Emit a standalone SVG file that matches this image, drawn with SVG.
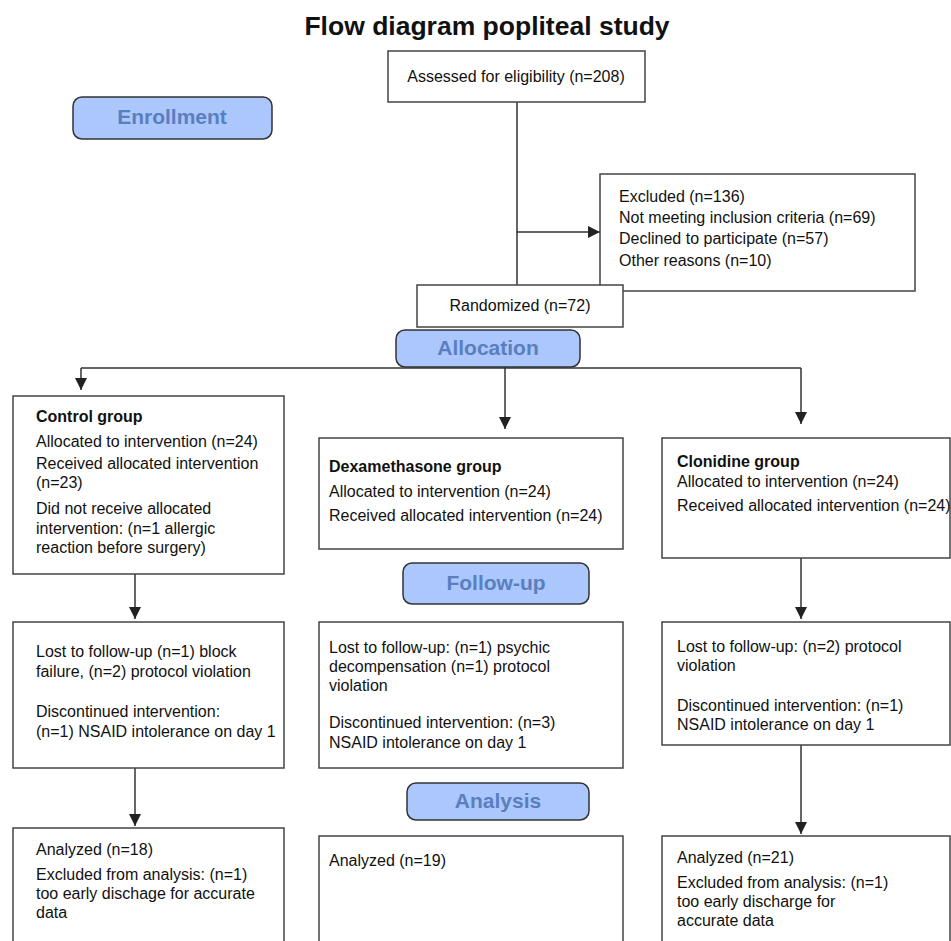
<svg xmlns="http://www.w3.org/2000/svg" width="951" height="941" viewBox="0 0 951 941">
<style>
.box{fill:#fff;stroke:#444;stroke-width:1.5}
.pill{fill:#abc7fb;stroke:#333;stroke-width:1.5}
.t{font-family:"Liberation Sans",Arial,sans-serif;font-size:16px;fill:#111}
.b{font-weight:bold}
.pt{font-family:"Liberation Sans",Arial,sans-serif;font-size:21px;font-weight:bold;fill:#5a7fbf;text-anchor:middle}
.title{font-family:"Liberation Sans",Arial,sans-serif;font-size:26.5px;font-weight:bold;fill:#111;text-anchor:middle}
.ln{fill:none;stroke:#333;stroke-width:1.5}
</style>
<defs>
<marker id="ah" viewBox="0 0 12 12" refX="12" refY="6" markerWidth="12" markerHeight="12" markerUnits="userSpaceOnUse" orient="auto">
<path d="M0,0 L12,6 L0,12 Z" fill="#222"/>
</marker>
</defs>
<rect width="951" height="941" fill="#fff"/>
<text class="title" x="487" y="35">Flow diagram popliteal study</text>

<g id="connectors">
<path class="ln" d="M517,102 V285"/>
<path class="ln" d="M517,232 H600" marker-end="url(#ah)"/>
<path class="ln" d="M81,368 H801"/>
<path class="ln" d="M81,368 V390" marker-end="url(#ah)"/>
<path class="ln" d="M505,367 V429" marker-end="url(#ah)"/>
<path class="ln" d="M801,368 V424" marker-end="url(#ah)"/>
<path class="ln" d="M135,574 V619" marker-end="url(#ah)"/>
<path class="ln" d="M801,558 V619" marker-end="url(#ah)"/>
<path class="ln" d="M135,768 V826" marker-end="url(#ah)"/>
<path class="ln" d="M801,745 V834" marker-end="url(#ah)"/>
</g>

<g id="enrollment">
<rect class="pill" x="73" y="97" width="199" height="42" rx="9"/>
<text class="pt" x="172" y="124">Enrollment</text>
</g>

<g id="assessed">
<rect class="box" x="388" y="51" width="257" height="51"/>
<text class="t" x="516" y="82" text-anchor="middle">Assessed for eligibility (n=208)</text>
</g>

<g id="excluded">
<rect class="box" x="600" y="174" width="315" height="117"/>
<text class="t" x="619" y="202">Excluded (n=136)</text>
<text class="t" x="619" y="223">Not meeting inclusion criteria (n=69)</text>
<text class="t" x="619" y="244">Declined to participate (n=57)</text>
<text class="t" x="619" y="266">Other reasons (n=10)</text>
</g>

<g id="randomized">
<rect class="box" x="417" y="285" width="206" height="42"/>
<text class="t" x="520" y="311" text-anchor="middle">Randomized (n=72)</text>
</g>

<g id="allocation">
<rect class="pill" x="396" y="330" width="184" height="37" rx="9"/>
<text class="pt" x="488" y="355">Allocation</text>
</g>

<g id="control-alloc">
<rect class="box" x="13" y="396" width="271" height="178"/>
<text class="t b" x="36" y="422">Control group</text>
<text class="t" x="36" y="447">Allocated to intervention (n=24)</text>
<text class="t" x="36" y="469">Received allocated intervention</text>
<text class="t" x="36" y="488">(n=23)</text>
<text class="t" x="36" y="514">Did not receive allocated</text>
<text class="t" x="36" y="534">intervention: (n=1 allergic</text>
<text class="t" x="36" y="553">reaction before surgery)</text>
</g>

<g id="dexa-alloc">
<rect class="box" x="319" y="438" width="304" height="111"/>
<text class="t b" x="329" y="472">Dexamethasone group</text>
<text class="t" x="329" y="497">Allocated to intervention (n=24)</text>
<text class="t" x="329" y="521">Received allocated intervention (n=24)</text>
</g>

<g id="clon-alloc">
<rect class="box" x="662" y="438" width="288" height="120"/>
<text class="t b" x="677" y="467">Clonidine group</text>
<text class="t" x="677" y="487">Allocated to intervention (n=24)</text>
<text class="t" x="677" y="511">Received allocated intervention (n=24)</text>
</g>

<g id="followup">
<rect class="pill" x="403" y="563" width="186" height="41" rx="9"/>
<text class="pt" x="496" y="590">Follow-up</text>
</g>

<g id="control-fu">
<rect class="box" x="13" y="622" width="271" height="146"/>
<text class="t" x="36" y="657">Lost to follow-up (n=1) block</text>
<text class="t" x="36" y="677">failure, (n=2) protocol violation</text>
<text class="t" x="36" y="717">Discontinued intervention:</text>
<text class="t" x="36" y="737">(n=1) NSAID intolerance on day 1</text>
</g>

<g id="dexa-fu">
<rect class="box" x="319" y="622" width="304" height="146"/>
<text class="t" x="329" y="653">Lost to follow-up: (n=1) psychic</text>
<text class="t" x="329" y="672">decompensation (n=1) protocol</text>
<text class="t" x="329" y="691">violation</text>
<text class="t" x="329" y="728">Discontinued intervention: (n=3)</text>
<text class="t" x="329" y="748">NSAID intolerance on day 1</text>
</g>

<g id="clon-fu">
<rect class="box" x="662" y="622" width="288" height="123"/>
<text class="t" x="677" y="652">Lost to follow-up: (n=2) protocol</text>
<text class="t" x="677" y="671">violation</text>
<text class="t" x="677" y="711">Discontinued intervention: (n=1)</text>
<text class="t" x="677" y="730">NSAID intolerance on day 1</text>
</g>

<g id="analysis">
<rect class="pill" x="407" y="783" width="182" height="37" rx="9"/>
<text class="pt" x="498" y="808">Analysis</text>
</g>

<g id="control-an">
<rect class="box" x="13" y="828" width="271" height="140"/>
<text class="t" x="36" y="855">Analyzed (n=18)</text>
<text class="t" x="36" y="880">Excluded from analysis: (n=1)</text>
<text class="t" x="36" y="899">too early dischage for accurate</text>
<text class="t" x="36" y="918">data</text>
</g>

<g id="dexa-an">
<rect class="box" x="319" y="836" width="304" height="140"/>
<text class="t" x="329" y="866">Analyzed (n=19)</text>
</g>

<g id="clon-an">
<rect class="box" x="662" y="836" width="288" height="140"/>
<text class="t" x="677" y="863">Analyzed (n=21)</text>
<text class="t" x="677" y="888">Excluded from analysis: (n=1)</text>
<text class="t" x="677" y="907">too early discharge for</text>
<text class="t" x="677" y="926">accurate data</text>
</g>
</svg>
